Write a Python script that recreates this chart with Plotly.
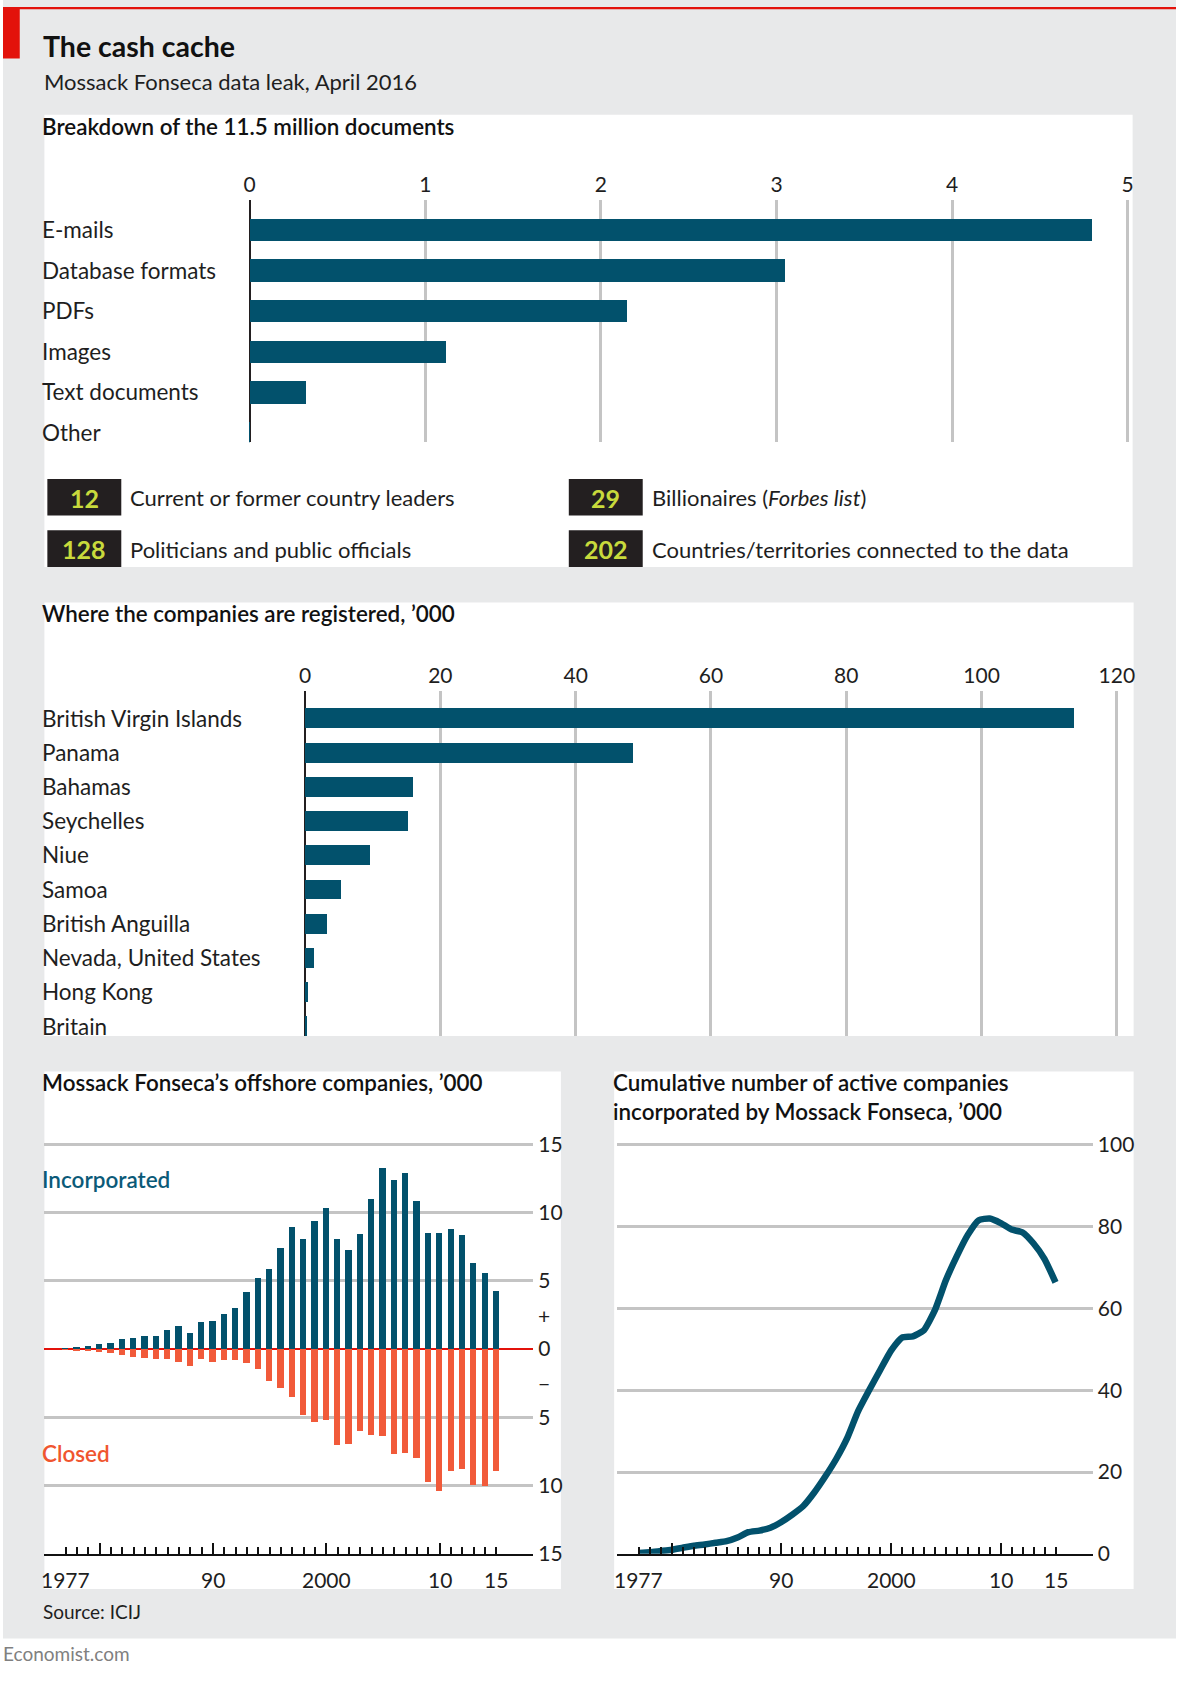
import plotly.graph_objects as go

W, H = 1190, 1692
DY = -7  # global vertical correction
FONT = "Lato, 'Noto Sans', sans-serif"
TEAL = "#02516c"
RED_BAR = "#f15a3a"
RED = "#e3120b"
GRID = "#c4c4c4"
BG = "#e8e9ea"
INK = "#1e1e1e"
BOX = "#231f20"
LIME = "#c8da3c"

# ---------------- data ----------------
doc_types = ["E-mails", "Database formats", "PDFs", "Images", "Text documents", "Other"]
doc_millions = [4.80, 3.05, 2.15, 1.12, 0.32, 0.002]
doc_ticks = [0, 1, 2, 3, 4, 5]

jurisdictions = ["British Virgin Islands", "Panama", "Bahamas", "Seychelles", "Niue", "Samoa",
                 "British Anguilla", "Nevada, United States", "Hong Kong", "Britain"]
companies_k = [113.6, 48.4, 15.9, 15.2, 9.6, 5.3, 3.3, 1.26, 0.45, 0.15]
juris_ticks = [0, 20, 40, 60, 80, 100, 120]

stat_numbers = ["12", "128", "29", "202"]
stat_labels = ["Current or former country leaders", "Politicians and public officials",
               "Billionaires (<i>Forbes list</i>)", "Countries/territories connected to the data"]

years = list(range(1977, 2016))
incorporated = [0.05, 0.17, 0.27, 0.36, 0.5, 0.73, 0.8, 0.95, 0.95, 1.4, 1.7, 1.2, 2.0, 2.1,
                2.6, 3.0, 4.2, 5.25, 5.9, 7.45, 9.0, 8.1, 9.45, 10.4, 8.1, 7.3, 8.45, 11.05,
                13.3, 12.45, 12.9, 10.9, 8.5, 8.55, 8.8, 8.4, 6.35, 5.6, 4.3]
closed = [0.02, 0.05, 0.15, 0.2, 0.25, 0.4, 0.55, 0.6, 0.7, 0.7, 0.9, 1.2, 0.7, 0.95,
          0.8, 0.8, 1.0, 1.45, 2.35, 2.85, 3.5, 4.8, 5.35, 5.15, 7.03, 6.93, 6.0, 6.3,
          6.35, 7.7, 7.6, 8.0, 9.7, 10.4, 8.95, 8.8, 9.95, 10.0, 8.9]
cumulative = [0.2, 0.4, 0.7, 1.0, 1.5, 2.0, 2.3, 2.7, 3.1, 4.0, 5.3, 5.7, 6.4, 7.8, 9.6,
              11.7, 15.0, 18.9, 23.2, 28.3, 34.9, 40.0, 44.9, 49.7, 52.9, 53.2, 54.7, 59.6,
              66.9, 72.8, 78.0, 81.6, 82.0, 80.9, 79.3, 78.6, 75.9, 72.1, 66.4]
offshore_ticks = [-15, -10, -5, 0, 5, 10, 15]
offshore_tick_text = ["15", "10", "5", "0", "5", "10", "15"]
cum_ticks = [0, 20, 40, 60, 80, 100]
year_label_vals = [1977, 1990, 2000, 2010, 2015]
year_label_text = ["1977", "90", "2000", "10", "15"]
decade_ticks = [1980, 1990, 2000, 2010]


def fx(x):
    return x / W


def fy(y, shift=True):
    return 1 - (y + (DY if shift else 0)) / H


def tf(size, color=INK, weight=400):
    return dict(family=FONT, size=size, color=color, weight=weight)


fig = go.Figure()

fig.add_trace(go.Bar(x=doc_millions, y=doc_types, orientation="h", marker_color=TEAL,
                     marker_line_width=0, width=0.55, xaxis="x", yaxis="y", hoverinfo="skip"))
fig.add_trace(go.Bar(x=companies_k, y=jurisdictions, orientation="h", marker_color=TEAL,
                     marker_line_width=0, width=0.58, xaxis="x2", yaxis="y2", hoverinfo="skip"))
fig.add_trace(go.Bar(x=years, y=incorporated, marker_color=TEAL, marker_line_width=0,
                     width=0.55, xaxis="x3", yaxis="y3", hoverinfo="skip"))
fig.add_trace(go.Bar(x=years, y=[-v for v in closed], marker_color=RED_BAR, marker_line_width=0,
                     width=0.55, xaxis="x3", yaxis="y3", hoverinfo="skip"))
fig.add_trace(go.Scatter(x=years, y=cumulative, mode="lines",
                         line=dict(color=TEAL, width=6.5, shape="spline", smoothing=0.5),
                         xaxis="x4", yaxis="y4", hoverinfo="skip"))

# ---- axes ----
k1 = (1141 - 250.2) / 5
k2 = (1130 - 306.4) / 120
top_axis = dict(side="top", showgrid=True, gridcolor=GRID, gridwidth=2.5, zeroline=True,
                zerolinecolor=BOX, zerolinewidth=1.5, ticks="", showline=False,
                tickfont=tf(21), ticklabelstandoff=2, fixedrange=True)
fig.update_layout(
    xaxis=dict(top_axis, domain=[fx(250.2 - 0.02 * k1), fx(1141 + 0.02 * k1)],
               range=[-0.02, 5.02], tickvals=doc_ticks, anchor="y"),
    yaxis=dict(domain=[fy(447), fy(201.7)], type="category", categoryarray=doc_types,
               range=[5.24, -0.74], showticklabels=False, showgrid=False, zeroline=False,
               anchor="x", fixedrange=True),
    xaxis2=dict(top_axis, domain=[fx(306.4 - 0.6 * k2), fx(1130 + 0.6 * k2)],
                range=[-0.6, 120.6], tickvals=juris_ticks, anchor="y2"),
    yaxis2=dict(domain=[fy(1047), fy(698)], type="category", categoryarray=jurisdictions,
                range=[9.29, -0.8], showticklabels=False, showgrid=False, zeroline=False,
                anchor="x2", fixedrange=True),
)

bottom_x = dict(showgrid=False, zeroline=False, showline=True, linecolor="#111111", linewidth=2,
                ticks="inside", tickvals=decade_ticks, ticklen=11, tickwidth=1.5,
                tickcolor="#111111", showticklabels=False,
                minor=dict(tickvals=years, ticks="inside", ticklen=7, tickwidth=1.5,
                           tickcolor="#111111"),
                fixedrange=True)
fig.update_layout(
    xaxis3=dict(bottom_x, domain=[fx(42), fx(538)], range=[1975.13, 2018.26], anchor="y3"),
    yaxis3=dict(domain=[fy(1570.3), fy(1149.9)], range=[-15, 15.5], side="right",
                tickvals=offshore_ticks, ticktext=offshore_tick_text, showgrid=True,
                gridcolor=GRID, gridwidth=2.5, zeroline=True, zerolinecolor=RED,
                zerolinewidth=2, ticks="", tickfont=tf(21), ticklabelstandoff=4,
                anchor="x3", fixedrange=True),
    xaxis4=dict(bottom_x, domain=[fx(623), fx(1105.6)], range=[1975.02, 2018.4], anchor="y4"),
    yaxis4=dict(domain=[fy(1570.5), fy(1148.9)], range=[0, 102], side="right",
                tickvals=cum_ticks, showgrid=True, gridcolor=GRID, gridwidth=2.5,
                zeroline=False, ticks="", tickfont=tf(21), ticklabelstandoff=4,
                anchor="x4", fixedrange=True),
)

# ---- background shapes ----
shapes = []


def rect(x0, y0, x1, y1, color, shift=True):
    shapes.append(dict(type="rect", xref="paper", yref="paper", x0=fx(x0), x1=fx(x1),
                       y0=fy(y1, shift), y1=fy(y0, shift), fillcolor=color, line_width=0,
                       layer="below"))


rect(0, 0, W, 1656, BG)
rect(0, 0, W, 2.3, RED, shift=False)
rect(0, 0, 17, 52, RED, shift=False)
rect(42, 116, 1146, 573, "white")
rect(42, 609, 1147, 1047, "white")
rect(42, 1083, 566, 1606, "white")
rect(620, 1083, 1147, 1606, "white")
box_pos = [(45, 484), (45, 536), (574, 484), (574, 536)]
for (bx, by) in box_pos:
    rect(bx, by, bx + 75, by + 37, BOX)

# ---- text ----
ann = []


def text(x, y, s, font, xanchor="left", yanchor="middle"):
    ann.append(dict(x=fx(x), y=fy(y), xref="paper", yref="paper", text=s, showarrow=False,
                    font=font, xanchor=xanchor, yanchor=yanchor, borderpad=0))


TITLE = 22.4
text(40, 46, "The cash cache", tf(28.5, "#111111", 700))
text(41, 82, "Mossack Fonseca data leak, April 2016", tf(22))
text(39, 128, "Breakdown of the 11.5 million documents", tf(TITLE, "#111111", 600))
text(39, 620, "Where the companies are registered, \u2019000", tf(TITLE, "#111111", 600))
text(39, 1094, "Mossack Fonseca\u2019s offshore companies, \u2019000", tf(TITLE, "#111111", 600))
text(618, 1094, "Cumulative number of active companies", tf(TITLE, "#111111", 600))
text(618, 1123, "incorporated by Mossack Fonseca, \u2019000", tf(TITLE, "#111111", 600))

for c in doc_types:
    ann.append(dict(x=fx(39), xref="paper", y=c, yref="y", text=c, showarrow=False,
                    font=tf(22.5), xanchor="left", yanchor="middle", borderpad=0))
for c in jurisdictions:
    ann.append(dict(x=fx(39), xref="paper", y=c, yref="y2", text=c, showarrow=False,
                    font=tf(22.5), xanchor="left", yanchor="middle", borderpad=0))

for (bx, by), num, lab in zip(box_pos, stat_numbers, stat_labels):
    text(bx + 37.5, by + 19, num, tf(25, LIME, 700), xanchor="center")
    text(bx + 83, by + 19, lab, tf(22))

text(39, 1192, "Incorporated", tf(22.5, "#0b5a78", 600))
text(39, 1469, "Closed", tf(22.5, "#f0552f", 600))

for v, s in [(2.5, "+"), (-2.5, "\u2212")]:
    ann.append(dict(x=fx(542), xref="paper", y=v, yref="y3", text=s, showarrow=False,
                    font=tf(21), xanchor="left", yanchor="middle", borderpad=0))

for xa in ["x3", "x4"]:
    for v, s in zip(year_label_vals, year_label_text):
        ann.append(dict(x=v, xref=xa, y=fy(1596), yref="paper", text=s, showarrow=False,
                        font=tf(21), xanchor="center", yanchor="middle", borderpad=0))

text(40, 1629, "Source: ICIJ", tf(19))
text(-1, 1671, "Economist.com", tf(19, "#808080"))

fig.update_layout(
    width=W, height=H, margin=dict(l=0, r=0, t=0, b=0, pad=0),
    paper_bgcolor="white", plot_bgcolor="rgba(0,0,0,0)",
    showlegend=False, barmode="overlay", bargap=0,
    shapes=shapes, annotations=ann, font=dict(family=FONT, color=INK),
)

fig.write_html("out.html", include_plotlyjs=True, config={"displayModeBar": False},
               post_script="document.body.style.margin='0';document.body.style.padding='0';")
